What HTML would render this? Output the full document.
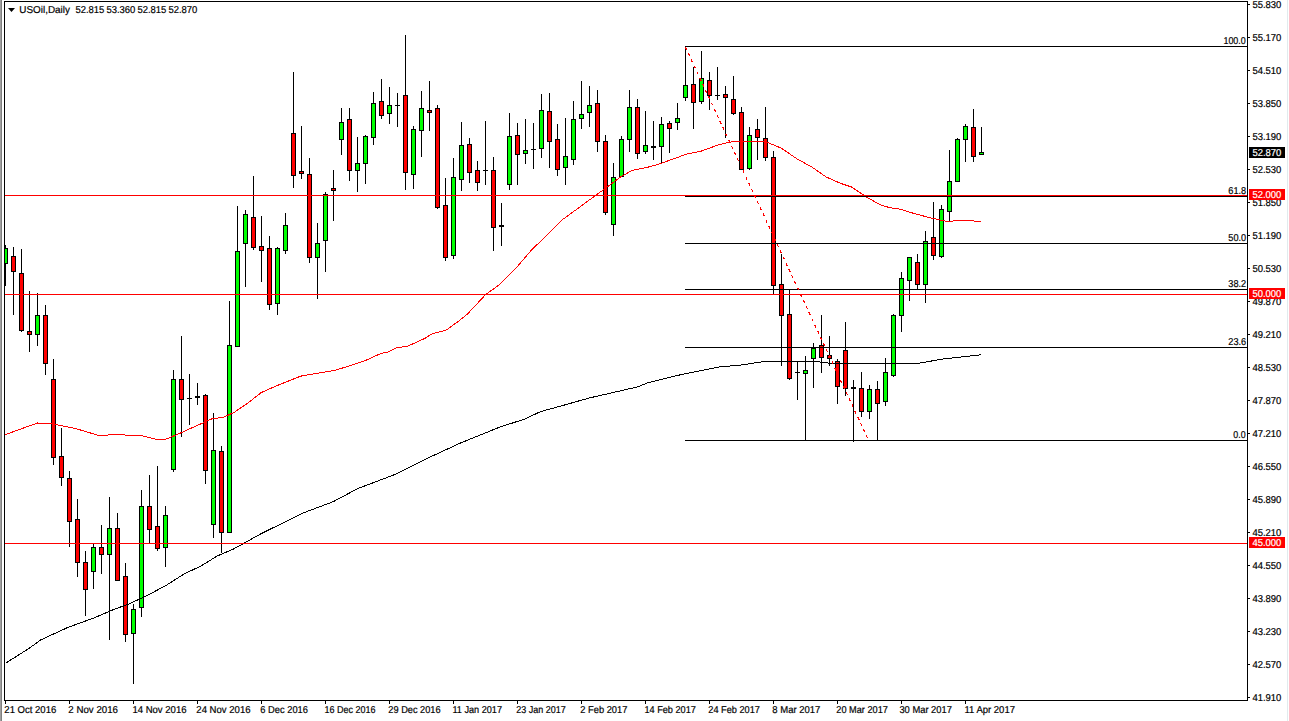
<!DOCTYPE html><html><head><meta charset="utf-8"><title>USOil Daily</title><style>
html,body{margin:0;padding:0;background:#fff;overflow:hidden;}
svg{display:block;}
text{font-family:"Liberation Sans",sans-serif;font-size:10px;text-rendering:geometricPrecision;stroke-width:0.2px;}
</style></head><body>
<svg width="1289" height="721" viewBox="0 0 1289 721">
<rect x="0" y="0" width="1289" height="721" fill="#fff"/>
<rect x="0" y="0" width="1" height="721" fill="#a0a0a0"/>
<rect x="1" y="0" width="1" height="721" fill="#808080"/>
<rect x="1287" y="0" width="1" height="721" fill="#e1ebee"/>
<defs><clipPath id="c"><rect x="5" y="2" width="1242" height="698"/></clipPath></defs>
<g clip-path="url(#c)" shape-rendering="crispEdges">
<rect x="5" y="245" width="1" height="41" fill="#000"/>
<rect x="3" y="248" width="5" height="16" fill="#000"/>
<rect x="4" y="249" width="3" height="14" fill="#00ff00"/>
<rect x="13" y="247" width="1" height="68" fill="#000"/>
<rect x="11" y="256" width="5" height="16" fill="#000"/>
<rect x="12" y="257" width="3" height="14" fill="#ff0000"/>
<rect x="21" y="249" width="1" height="83" fill="#000"/>
<rect x="19" y="273" width="5" height="58" fill="#000"/>
<rect x="20" y="274" width="3" height="56" fill="#ff0000"/>
<rect x="29" y="291" width="1" height="61" fill="#000"/>
<rect x="27" y="331" width="5" height="4" fill="#000"/>
<rect x="28" y="332" width="3" height="2" fill="#ff0000"/>
<rect x="37" y="293" width="1" height="53" fill="#000"/>
<rect x="35" y="315" width="5" height="20" fill="#000"/>
<rect x="36" y="316" width="3" height="18" fill="#00ff00"/>
<rect x="45" y="305" width="1" height="70" fill="#000"/>
<rect x="43" y="315" width="5" height="49" fill="#000"/>
<rect x="44" y="316" width="3" height="47" fill="#ff0000"/>
<rect x="53" y="359" width="1" height="106" fill="#000"/>
<rect x="51" y="379" width="5" height="79" fill="#000"/>
<rect x="52" y="380" width="3" height="77" fill="#ff0000"/>
<rect x="61" y="428" width="1" height="58" fill="#000"/>
<rect x="59" y="456" width="5" height="22" fill="#000"/>
<rect x="60" y="457" width="3" height="20" fill="#ff0000"/>
<rect x="69" y="471" width="1" height="76" fill="#000"/>
<rect x="67" y="478" width="5" height="44" fill="#000"/>
<rect x="68" y="479" width="3" height="42" fill="#ff0000"/>
<rect x="77" y="499" width="1" height="78" fill="#000"/>
<rect x="75" y="519" width="5" height="44" fill="#000"/>
<rect x="76" y="520" width="3" height="42" fill="#ff0000"/>
<rect x="85" y="551" width="1" height="65" fill="#000"/>
<rect x="83" y="562" width="5" height="28" fill="#000"/>
<rect x="84" y="563" width="3" height="26" fill="#ff0000"/>
<rect x="93" y="544" width="1" height="45" fill="#000"/>
<rect x="91" y="547" width="5" height="25" fill="#000"/>
<rect x="92" y="548" width="3" height="23" fill="#00ff00"/>
<rect x="101" y="525" width="1" height="49" fill="#000"/>
<rect x="99" y="547" width="5" height="8" fill="#000"/>
<rect x="100" y="548" width="3" height="6" fill="#ff0000"/>
<rect x="109" y="497" width="1" height="143" fill="#000"/>
<rect x="107" y="528" width="5" height="27" fill="#000"/>
<rect x="108" y="529" width="3" height="25" fill="#00ff00"/>
<rect x="117" y="513" width="1" height="68" fill="#000"/>
<rect x="115" y="528" width="5" height="53" fill="#000"/>
<rect x="116" y="529" width="3" height="51" fill="#ff0000"/>
<rect x="125" y="563" width="1" height="79" fill="#000"/>
<rect x="123" y="576" width="5" height="59" fill="#000"/>
<rect x="124" y="577" width="3" height="57" fill="#ff0000"/>
<rect x="133" y="604" width="1" height="80" fill="#000"/>
<rect x="131" y="609" width="5" height="25" fill="#000"/>
<rect x="132" y="610" width="3" height="23" fill="#00ff00"/>
<rect x="141" y="490" width="1" height="127" fill="#000"/>
<rect x="139" y="506" width="5" height="102" fill="#000"/>
<rect x="140" y="507" width="3" height="100" fill="#00ff00"/>
<rect x="149" y="475" width="1" height="68" fill="#000"/>
<rect x="147" y="506" width="5" height="24" fill="#000"/>
<rect x="148" y="507" width="3" height="22" fill="#ff0000"/>
<rect x="157" y="466" width="1" height="85" fill="#000"/>
<rect x="155" y="526" width="5" height="23" fill="#000"/>
<rect x="156" y="527" width="3" height="21" fill="#ff0000"/>
<rect x="165" y="506" width="1" height="61" fill="#000"/>
<rect x="163" y="515" width="5" height="33" fill="#000"/>
<rect x="164" y="516" width="3" height="31" fill="#00ff00"/>
<rect x="173" y="370" width="1" height="102" fill="#000"/>
<rect x="171" y="379" width="5" height="91" fill="#000"/>
<rect x="172" y="380" width="3" height="89" fill="#00ff00"/>
<rect x="181" y="336" width="1" height="101" fill="#000"/>
<rect x="179" y="379" width="5" height="21" fill="#000"/>
<rect x="180" y="380" width="3" height="19" fill="#ff0000"/>
<rect x="189" y="374" width="1" height="51" fill="#000"/>
<rect x="187" y="398" width="5" height="1" fill="#000"/>
<rect x="197" y="383" width="1" height="22" fill="#000"/>
<rect x="195" y="396" width="5" height="2" fill="#000"/>
<rect x="205" y="394" width="1" height="90" fill="#000"/>
<rect x="203" y="395" width="5" height="76" fill="#000"/>
<rect x="204" y="396" width="3" height="74" fill="#ff0000"/>
<rect x="213" y="413" width="1" height="125" fill="#000"/>
<rect x="211" y="450" width="5" height="75" fill="#000"/>
<rect x="212" y="451" width="3" height="73" fill="#00ff00"/>
<rect x="221" y="446" width="1" height="107" fill="#000"/>
<rect x="219" y="451" width="5" height="82" fill="#000"/>
<rect x="220" y="452" width="3" height="80" fill="#ff0000"/>
<rect x="229" y="301" width="1" height="232" fill="#000"/>
<rect x="227" y="345" width="5" height="188" fill="#000"/>
<rect x="228" y="346" width="3" height="186" fill="#00ff00"/>
<rect x="237" y="206" width="1" height="141" fill="#000"/>
<rect x="235" y="251" width="5" height="96" fill="#000"/>
<rect x="236" y="252" width="3" height="94" fill="#00ff00"/>
<rect x="245" y="210" width="1" height="77" fill="#000"/>
<rect x="243" y="214" width="5" height="30" fill="#000"/>
<rect x="244" y="215" width="3" height="28" fill="#00ff00"/>
<rect x="253" y="176" width="1" height="74" fill="#000"/>
<rect x="251" y="217" width="5" height="31" fill="#000"/>
<rect x="252" y="218" width="3" height="29" fill="#ff0000"/>
<rect x="261" y="216" width="1" height="66" fill="#000"/>
<rect x="259" y="246" width="5" height="5" fill="#000"/>
<rect x="260" y="247" width="3" height="3" fill="#ff0000"/>
<rect x="269" y="236" width="1" height="74" fill="#000"/>
<rect x="267" y="248" width="5" height="57" fill="#000"/>
<rect x="268" y="249" width="3" height="55" fill="#ff0000"/>
<rect x="277" y="247" width="1" height="68" fill="#000"/>
<rect x="275" y="248" width="5" height="56" fill="#000"/>
<rect x="276" y="249" width="3" height="54" fill="#00ff00"/>
<rect x="285" y="213" width="1" height="41" fill="#000"/>
<rect x="283" y="225" width="5" height="26" fill="#000"/>
<rect x="284" y="226" width="3" height="24" fill="#00ff00"/>
<rect x="293" y="72" width="1" height="116" fill="#000"/>
<rect x="291" y="133" width="5" height="43" fill="#000"/>
<rect x="292" y="134" width="3" height="41" fill="#ff0000"/>
<rect x="301" y="126" width="1" height="53" fill="#000"/>
<rect x="299" y="171" width="5" height="3" fill="#000"/>
<rect x="300" y="172" width="3" height="1" fill="#ff0000"/>
<rect x="309" y="158" width="1" height="105" fill="#000"/>
<rect x="307" y="174" width="5" height="84" fill="#000"/>
<rect x="308" y="175" width="3" height="82" fill="#ff0000"/>
<rect x="317" y="223" width="1" height="76" fill="#000"/>
<rect x="315" y="243" width="5" height="15" fill="#000"/>
<rect x="316" y="244" width="3" height="13" fill="#00ff00"/>
<rect x="325" y="192" width="1" height="80" fill="#000"/>
<rect x="323" y="194" width="5" height="47" fill="#000"/>
<rect x="324" y="195" width="3" height="45" fill="#00ff00"/>
<rect x="333" y="170" width="1" height="51" fill="#000"/>
<rect x="331" y="188" width="5" height="3" fill="#000"/>
<rect x="332" y="189" width="3" height="1" fill="#ff0000"/>
<rect x="341" y="108" width="1" height="47" fill="#000"/>
<rect x="339" y="122" width="5" height="18" fill="#000"/>
<rect x="340" y="123" width="3" height="16" fill="#00ff00"/>
<rect x="349" y="108" width="1" height="73" fill="#000"/>
<rect x="347" y="119" width="5" height="52" fill="#000"/>
<rect x="348" y="120" width="3" height="50" fill="#ff0000"/>
<rect x="357" y="137" width="1" height="55" fill="#000"/>
<rect x="355" y="163" width="5" height="8" fill="#000"/>
<rect x="356" y="164" width="3" height="6" fill="#00ff00"/>
<rect x="365" y="135" width="1" height="49" fill="#000"/>
<rect x="363" y="136" width="5" height="28" fill="#000"/>
<rect x="364" y="137" width="3" height="26" fill="#00ff00"/>
<rect x="373" y="92" width="1" height="53" fill="#000"/>
<rect x="371" y="103" width="5" height="35" fill="#000"/>
<rect x="372" y="104" width="3" height="33" fill="#00ff00"/>
<rect x="381" y="79" width="1" height="40" fill="#000"/>
<rect x="379" y="101" width="5" height="15" fill="#000"/>
<rect x="380" y="102" width="3" height="13" fill="#ff0000"/>
<rect x="389" y="87" width="1" height="37" fill="#000"/>
<rect x="387" y="105" width="5" height="9" fill="#000"/>
<rect x="388" y="106" width="3" height="7" fill="#00ff00"/>
<rect x="397" y="93" width="1" height="34" fill="#000"/>
<rect x="395" y="105" width="5" height="1" fill="#000"/>
<rect x="405" y="35" width="1" height="155" fill="#000"/>
<rect x="403" y="95" width="5" height="78" fill="#000"/>
<rect x="404" y="96" width="3" height="76" fill="#ff0000"/>
<rect x="413" y="126" width="1" height="63" fill="#000"/>
<rect x="411" y="129" width="5" height="46" fill="#000"/>
<rect x="412" y="130" width="3" height="44" fill="#00ff00"/>
<rect x="421" y="91" width="1" height="66" fill="#000"/>
<rect x="419" y="108" width="5" height="23" fill="#000"/>
<rect x="420" y="109" width="3" height="21" fill="#00ff00"/>
<rect x="429" y="81" width="1" height="50" fill="#000"/>
<rect x="427" y="110" width="5" height="3" fill="#000"/>
<rect x="428" y="111" width="3" height="1" fill="#ff0000"/>
<rect x="437" y="105" width="1" height="104" fill="#000"/>
<rect x="435" y="108" width="5" height="100" fill="#000"/>
<rect x="436" y="109" width="3" height="98" fill="#ff0000"/>
<rect x="445" y="178" width="1" height="83" fill="#000"/>
<rect x="443" y="205" width="5" height="53" fill="#000"/>
<rect x="444" y="206" width="3" height="51" fill="#ff0000"/>
<rect x="453" y="158" width="1" height="101" fill="#000"/>
<rect x="451" y="177" width="5" height="79" fill="#000"/>
<rect x="452" y="178" width="3" height="77" fill="#00ff00"/>
<rect x="461" y="122" width="1" height="69" fill="#000"/>
<rect x="459" y="145" width="5" height="35" fill="#000"/>
<rect x="460" y="146" width="3" height="33" fill="#00ff00"/>
<rect x="469" y="138" width="1" height="45" fill="#000"/>
<rect x="467" y="144" width="5" height="29" fill="#000"/>
<rect x="468" y="145" width="3" height="27" fill="#ff0000"/>
<rect x="477" y="161" width="1" height="30" fill="#000"/>
<rect x="475" y="170" width="5" height="13" fill="#000"/>
<rect x="476" y="171" width="3" height="11" fill="#ff0000"/>
<rect x="485" y="121" width="1" height="64" fill="#000"/>
<rect x="483" y="170" width="5" height="1" fill="#000"/>
<rect x="493" y="157" width="1" height="94" fill="#000"/>
<rect x="491" y="170" width="5" height="58" fill="#000"/>
<rect x="492" y="171" width="3" height="56" fill="#ff0000"/>
<rect x="501" y="203" width="1" height="43" fill="#000"/>
<rect x="499" y="225" width="5" height="2" fill="#000"/>
<rect x="509" y="113" width="1" height="77" fill="#000"/>
<rect x="507" y="136" width="5" height="49" fill="#000"/>
<rect x="508" y="137" width="3" height="47" fill="#00ff00"/>
<rect x="517" y="123" width="1" height="62" fill="#000"/>
<rect x="515" y="135" width="5" height="20" fill="#000"/>
<rect x="516" y="136" width="3" height="18" fill="#ff0000"/>
<rect x="525" y="119" width="1" height="45" fill="#000"/>
<rect x="523" y="150" width="5" height="4" fill="#000"/>
<rect x="524" y="151" width="3" height="2" fill="#00ff00"/>
<rect x="533" y="123" width="1" height="46" fill="#000"/>
<rect x="531" y="149" width="5" height="1" fill="#000"/>
<rect x="541" y="94" width="1" height="64" fill="#000"/>
<rect x="539" y="110" width="5" height="39" fill="#000"/>
<rect x="540" y="111" width="3" height="37" fill="#00ff00"/>
<rect x="549" y="93" width="1" height="75" fill="#000"/>
<rect x="547" y="111" width="5" height="31" fill="#000"/>
<rect x="548" y="112" width="3" height="29" fill="#ff0000"/>
<rect x="557" y="124" width="1" height="52" fill="#000"/>
<rect x="555" y="139" width="5" height="31" fill="#000"/>
<rect x="556" y="140" width="3" height="29" fill="#ff0000"/>
<rect x="565" y="118" width="1" height="67" fill="#000"/>
<rect x="563" y="156" width="5" height="12" fill="#000"/>
<rect x="564" y="157" width="3" height="10" fill="#00ff00"/>
<rect x="573" y="101" width="1" height="64" fill="#000"/>
<rect x="571" y="119" width="5" height="41" fill="#000"/>
<rect x="572" y="120" width="3" height="39" fill="#00ff00"/>
<rect x="581" y="81" width="1" height="48" fill="#000"/>
<rect x="579" y="114" width="5" height="5" fill="#000"/>
<rect x="580" y="115" width="3" height="3" fill="#00ff00"/>
<rect x="589" y="86" width="1" height="41" fill="#000"/>
<rect x="587" y="105" width="5" height="8" fill="#000"/>
<rect x="588" y="106" width="3" height="6" fill="#00ff00"/>
<rect x="597" y="90" width="1" height="62" fill="#000"/>
<rect x="595" y="103" width="5" height="39" fill="#000"/>
<rect x="596" y="104" width="3" height="37" fill="#ff0000"/>
<rect x="605" y="135" width="1" height="80" fill="#000"/>
<rect x="603" y="141" width="5" height="72" fill="#000"/>
<rect x="604" y="142" width="3" height="70" fill="#ff0000"/>
<rect x="613" y="163" width="1" height="73" fill="#000"/>
<rect x="611" y="177" width="5" height="48" fill="#000"/>
<rect x="612" y="178" width="3" height="46" fill="#00ff00"/>
<rect x="621" y="136" width="1" height="41" fill="#000"/>
<rect x="619" y="139" width="5" height="38" fill="#000"/>
<rect x="620" y="140" width="3" height="36" fill="#00ff00"/>
<rect x="629" y="90" width="1" height="62" fill="#000"/>
<rect x="627" y="107" width="5" height="33" fill="#000"/>
<rect x="628" y="108" width="3" height="31" fill="#00ff00"/>
<rect x="637" y="99" width="1" height="60" fill="#000"/>
<rect x="635" y="107" width="5" height="47" fill="#000"/>
<rect x="636" y="108" width="3" height="45" fill="#ff0000"/>
<rect x="645" y="111" width="1" height="43" fill="#000"/>
<rect x="643" y="145" width="5" height="7" fill="#000"/>
<rect x="644" y="146" width="3" height="5" fill="#00ff00"/>
<rect x="653" y="121" width="1" height="39" fill="#000"/>
<rect x="651" y="146" width="5" height="2" fill="#000"/>
<rect x="661" y="117" width="1" height="47" fill="#000"/>
<rect x="659" y="124" width="5" height="23" fill="#000"/>
<rect x="660" y="125" width="3" height="21" fill="#00ff00"/>
<rect x="669" y="121" width="1" height="32" fill="#000"/>
<rect x="667" y="123" width="5" height="6" fill="#000"/>
<rect x="668" y="124" width="3" height="4" fill="#ff0000"/>
<rect x="677" y="103" width="1" height="27" fill="#000"/>
<rect x="675" y="118" width="5" height="5" fill="#000"/>
<rect x="676" y="119" width="3" height="3" fill="#00ff00"/>
<rect x="685" y="47" width="1" height="54" fill="#000"/>
<rect x="683" y="85" width="5" height="13" fill="#000"/>
<rect x="684" y="86" width="3" height="11" fill="#00ff00"/>
<rect x="693" y="67" width="1" height="62" fill="#000"/>
<rect x="691" y="84" width="5" height="19" fill="#000"/>
<rect x="692" y="85" width="3" height="17" fill="#ff0000"/>
<rect x="701" y="51" width="1" height="53" fill="#000"/>
<rect x="699" y="78" width="5" height="24" fill="#000"/>
<rect x="700" y="79" width="3" height="22" fill="#00ff00"/>
<rect x="709" y="72" width="1" height="38" fill="#000"/>
<rect x="707" y="80" width="5" height="16" fill="#000"/>
<rect x="708" y="81" width="3" height="14" fill="#ff0000"/>
<rect x="717" y="67" width="1" height="33" fill="#000"/>
<rect x="715" y="95" width="5" height="1" fill="#000"/>
<rect x="725" y="86" width="1" height="52" fill="#000"/>
<rect x="723" y="94" width="5" height="4" fill="#000"/>
<rect x="724" y="95" width="3" height="2" fill="#ff0000"/>
<rect x="733" y="76" width="1" height="39" fill="#000"/>
<rect x="731" y="99" width="5" height="15" fill="#000"/>
<rect x="732" y="100" width="3" height="13" fill="#ff0000"/>
<rect x="741" y="107" width="1" height="63" fill="#000"/>
<rect x="739" y="112" width="5" height="58" fill="#000"/>
<rect x="740" y="113" width="3" height="56" fill="#ff0000"/>
<rect x="749" y="127" width="1" height="43" fill="#000"/>
<rect x="747" y="135" width="5" height="34" fill="#000"/>
<rect x="748" y="136" width="3" height="32" fill="#00ff00"/>
<rect x="757" y="119" width="1" height="41" fill="#000"/>
<rect x="755" y="129" width="5" height="9" fill="#000"/>
<rect x="756" y="130" width="3" height="7" fill="#ff0000"/>
<rect x="765" y="107" width="1" height="54" fill="#000"/>
<rect x="763" y="138" width="5" height="20" fill="#000"/>
<rect x="764" y="139" width="3" height="18" fill="#ff0000"/>
<rect x="773" y="151" width="1" height="144" fill="#000"/>
<rect x="771" y="157" width="5" height="129" fill="#000"/>
<rect x="772" y="158" width="3" height="127" fill="#ff0000"/>
<rect x="781" y="254" width="1" height="112" fill="#000"/>
<rect x="779" y="284" width="5" height="32" fill="#000"/>
<rect x="780" y="285" width="3" height="30" fill="#ff0000"/>
<rect x="789" y="290" width="1" height="90" fill="#000"/>
<rect x="787" y="314" width="5" height="65" fill="#000"/>
<rect x="788" y="315" width="3" height="63" fill="#ff0000"/>
<rect x="797" y="361" width="1" height="39" fill="#000"/>
<rect x="795" y="372" width="5" height="1" fill="#000"/>
<rect x="805" y="356" width="1" height="85" fill="#000"/>
<rect x="803" y="370" width="5" height="4" fill="#000"/>
<rect x="804" y="371" width="3" height="2" fill="#00ff00"/>
<rect x="813" y="343" width="1" height="45" fill="#000"/>
<rect x="811" y="348" width="5" height="11" fill="#000"/>
<rect x="812" y="349" width="3" height="9" fill="#00ff00"/>
<rect x="821" y="315" width="1" height="58" fill="#000"/>
<rect x="819" y="345" width="5" height="13" fill="#000"/>
<rect x="820" y="346" width="3" height="11" fill="#ff0000"/>
<rect x="829" y="336" width="1" height="30" fill="#000"/>
<rect x="827" y="355" width="5" height="4" fill="#000"/>
<rect x="828" y="356" width="3" height="2" fill="#ff0000"/>
<rect x="837" y="359" width="1" height="45" fill="#000"/>
<rect x="835" y="361" width="5" height="26" fill="#000"/>
<rect x="836" y="362" width="3" height="24" fill="#ff0000"/>
<rect x="845" y="322" width="1" height="74" fill="#000"/>
<rect x="843" y="350" width="5" height="39" fill="#000"/>
<rect x="844" y="351" width="3" height="37" fill="#ff0000"/>
<rect x="853" y="380" width="1" height="62" fill="#000"/>
<rect x="851" y="387" width="5" height="2" fill="#000"/>
<rect x="861" y="372" width="1" height="45" fill="#000"/>
<rect x="859" y="388" width="5" height="24" fill="#000"/>
<rect x="860" y="389" width="3" height="22" fill="#ff0000"/>
<rect x="869" y="385" width="1" height="34" fill="#000"/>
<rect x="867" y="389" width="5" height="23" fill="#000"/>
<rect x="868" y="390" width="3" height="21" fill="#00ff00"/>
<rect x="877" y="381" width="1" height="60" fill="#000"/>
<rect x="875" y="389" width="5" height="15" fill="#000"/>
<rect x="876" y="390" width="3" height="13" fill="#ff0000"/>
<rect x="885" y="358" width="1" height="48" fill="#000"/>
<rect x="883" y="372" width="5" height="30" fill="#000"/>
<rect x="884" y="373" width="3" height="28" fill="#00ff00"/>
<rect x="893" y="314" width="1" height="63" fill="#000"/>
<rect x="891" y="315" width="5" height="61" fill="#000"/>
<rect x="892" y="316" width="3" height="59" fill="#00ff00"/>
<rect x="901" y="272" width="1" height="60" fill="#000"/>
<rect x="899" y="278" width="5" height="38" fill="#000"/>
<rect x="900" y="279" width="3" height="36" fill="#00ff00"/>
<rect x="909" y="257" width="1" height="44" fill="#000"/>
<rect x="907" y="257" width="5" height="24" fill="#000"/>
<rect x="908" y="258" width="3" height="22" fill="#00ff00"/>
<rect x="917" y="254" width="1" height="36" fill="#000"/>
<rect x="915" y="262" width="5" height="23" fill="#000"/>
<rect x="916" y="263" width="3" height="21" fill="#ff0000"/>
<rect x="925" y="231" width="1" height="72" fill="#000"/>
<rect x="923" y="241" width="5" height="44" fill="#000"/>
<rect x="924" y="242" width="3" height="42" fill="#00ff00"/>
<rect x="933" y="202" width="1" height="58" fill="#000"/>
<rect x="931" y="237" width="5" height="19" fill="#000"/>
<rect x="932" y="238" width="3" height="17" fill="#ff0000"/>
<rect x="941" y="205" width="1" height="53" fill="#000"/>
<rect x="939" y="209" width="5" height="48" fill="#000"/>
<rect x="940" y="210" width="3" height="46" fill="#00ff00"/>
<rect x="949" y="150" width="1" height="72" fill="#000"/>
<rect x="947" y="181" width="5" height="31" fill="#000"/>
<rect x="948" y="182" width="3" height="29" fill="#00ff00"/>
<rect x="957" y="138" width="1" height="44" fill="#000"/>
<rect x="955" y="139" width="5" height="43" fill="#000"/>
<rect x="956" y="140" width="3" height="41" fill="#00ff00"/>
<rect x="965" y="124" width="1" height="38" fill="#000"/>
<rect x="963" y="126" width="5" height="14" fill="#000"/>
<rect x="964" y="127" width="3" height="12" fill="#00ff00"/>
<rect x="973" y="109" width="1" height="53" fill="#000"/>
<rect x="971" y="127" width="5" height="30" fill="#000"/>
<rect x="972" y="128" width="3" height="28" fill="#ff0000"/>
<rect x="981" y="127" width="1" height="28" fill="#000"/>
<rect x="979" y="152" width="5" height="3" fill="#000"/>
<rect x="980" y="153" width="3" height="1" fill="#00ff00"/>
<polyline points="5.50,663.20 28.50,648.80 40.50,640.00 67.50,627.60 85.50,621.00 94.50,617.70 112.50,610.00 130.50,603.30 148.50,594.80 166.50,585.20 184.80,573.50 200.50,566.30 217.20,556.00 233.50,549.00 260.50,534.00 303.00,513.00 333.00,501.75 358.00,488.50 395.50,474.25 428.00,458.00 460.50,443.00 500.50,426.80 524.70,419.10 540.80,411.50 561.00,406.00 589.20,398.00 637.60,386.90 647.70,382.80 682.00,374.40 718.20,367.10 740.50,365.10 762.70,361.70 817.10,361.70 833.20,363.70 919.90,363.10 942.10,359.10 981.50,354.70" fill="none" stroke="#000000" stroke-width="1" />
<polyline points="5.50,434.50 37.50,423.00 50.50,423.50 75.50,428.50 100.50,436.00 112.50,434.50 120.50,434.50 132.50,436.00 140.50,435.40 156.50,439.30 166.50,439.00 176.50,434.80 194.50,426.70 212.50,418.60 223.50,417.30 234.30,412.30 248.70,402.40 261.30,392.50 275.80,386.10 300.50,376.20 308.80,374.70 334.40,370.50 351.40,365.30 365.10,360.70 380.40,353.70 389.00,351.70 397.50,347.40 406.90,346.60 424.80,338.40 431.60,334.10 440.50,331.50 445.90,330.30 458.50,321.20 467.50,314.00 485.50,294.70 500.00,284.30 514.50,269.80 530.70,250.90 563.00,219.25 580.50,206.50 585.50,202.80 602.80,190.20 620.20,177.20 632.30,170.30 645.50,167.70 650.70,166.50 661.50,163.20 686.70,154.10 701.20,151.10 718.50,144.80 733.00,141.50 745.50,141.50 765.50,141.50 781.70,148.40 796.10,158.30 812.30,167.30 826.20,177.00 840.70,183.40 851.50,187.00 867.70,197.80 880.50,204.90 890.20,207.80 899.90,209.10 909.60,212.20 929.00,217.50 946.50,221.40 962.10,220.40 981.50,221.40" fill="none" stroke="#ff0000" stroke-width="1" />
<rect x="5" y="195" width="1242" height="1" fill="#ff0000"/>
<rect x="5" y="294" width="1242" height="1" fill="#ff0000"/>
<rect x="5" y="543" width="1242" height="1" fill="#ff0000"/>
<rect x="685" y="46" width="562" height="1" fill="#000000"/>
<rect x="685" y="196" width="562" height="1" fill="#000000"/>
<rect x="685" y="243" width="562" height="1" fill="#000000"/>
<rect x="685" y="289" width="562" height="1" fill="#000000"/>
<rect x="685" y="347" width="562" height="1" fill="#000000"/>
<rect x="685" y="440" width="562" height="1" fill="#000000"/>
<line x1="685.5" y1="47.2" x2="868.5" y2="440.2" stroke="#ff0000" stroke-width="1.2" stroke-dasharray="3 3.8"/>
</g>
<g shape-rendering="crispEdges">
<rect x="4" y="1" width="1244" height="1" fill="#000"/>
<rect x="4" y="700" width="1244" height="1" fill="#000"/>
<rect x="4" y="1" width="1" height="700" fill="#000"/>
<rect x="1247" y="1" width="1" height="700" fill="#000"/>
<rect x="1248" y="4" width="2" height="1" fill="#000"/>
<rect x="1248" y="37" width="2" height="1" fill="#000"/>
<rect x="1248" y="70" width="2" height="1" fill="#000"/>
<rect x="1248" y="103" width="2" height="1" fill="#000"/>
<rect x="1248" y="136" width="2" height="1" fill="#000"/>
<rect x="1248" y="169" width="2" height="1" fill="#000"/>
<rect x="1248" y="202" width="2" height="1" fill="#000"/>
<rect x="1248" y="235" width="2" height="1" fill="#000"/>
<rect x="1248" y="268" width="2" height="1" fill="#000"/>
<rect x="1248" y="301" width="2" height="1" fill="#000"/>
<rect x="1248" y="334" width="2" height="1" fill="#000"/>
<rect x="1248" y="367" width="2" height="1" fill="#000"/>
<rect x="1248" y="400" width="2" height="1" fill="#000"/>
<rect x="1248" y="433" width="2" height="1" fill="#000"/>
<rect x="1248" y="466" width="2" height="1" fill="#000"/>
<rect x="1248" y="499" width="2" height="1" fill="#000"/>
<rect x="1248" y="532" width="2" height="1" fill="#000"/>
<rect x="1248" y="565" width="2" height="1" fill="#000"/>
<rect x="1248" y="598" width="2" height="1" fill="#000"/>
<rect x="1248" y="631" width="2" height="1" fill="#000"/>
<rect x="1248" y="664" width="2" height="1" fill="#000"/>
<rect x="1248" y="697" width="2" height="1" fill="#000"/>
</g>
<text x="1252.404" y="8" textLength="28.955" lengthAdjust="spacingAndGlyphs" fill="#000" stroke="#000">55.830</text>
<text x="1252.404" y="41" textLength="28.955" lengthAdjust="spacingAndGlyphs" fill="#000" stroke="#000">55.170</text>
<text x="1252.404" y="74" textLength="28.955" lengthAdjust="spacingAndGlyphs" fill="#000" stroke="#000">54.510</text>
<text x="1252.404" y="107" textLength="28.955" lengthAdjust="spacingAndGlyphs" fill="#000" stroke="#000">53.850</text>
<text x="1252.404" y="140" textLength="28.955" lengthAdjust="spacingAndGlyphs" fill="#000" stroke="#000">53.190</text>
<text x="1252.404" y="173" textLength="28.955" lengthAdjust="spacingAndGlyphs" fill="#000" stroke="#000">52.530</text>
<text x="1252.404" y="206" textLength="28.955" lengthAdjust="spacingAndGlyphs" fill="#000" stroke="#000">51.850</text>
<text x="1252.404" y="239" textLength="28.955" lengthAdjust="spacingAndGlyphs" fill="#000" stroke="#000">51.190</text>
<text x="1252.404" y="272" textLength="28.955" lengthAdjust="spacingAndGlyphs" fill="#000" stroke="#000">50.530</text>
<text x="1252.404" y="305" textLength="28.955" lengthAdjust="spacingAndGlyphs" fill="#000" stroke="#000">49.870</text>
<text x="1252.404" y="338" textLength="28.955" lengthAdjust="spacingAndGlyphs" fill="#000" stroke="#000">49.210</text>
<text x="1252.404" y="371" textLength="28.955" lengthAdjust="spacingAndGlyphs" fill="#000" stroke="#000">48.530</text>
<text x="1252.404" y="404" textLength="28.955" lengthAdjust="spacingAndGlyphs" fill="#000" stroke="#000">47.870</text>
<text x="1252.404" y="437" textLength="28.955" lengthAdjust="spacingAndGlyphs" fill="#000" stroke="#000">47.210</text>
<text x="1252.404" y="470" textLength="28.955" lengthAdjust="spacingAndGlyphs" fill="#000" stroke="#000">46.550</text>
<text x="1252.404" y="503" textLength="28.955" lengthAdjust="spacingAndGlyphs" fill="#000" stroke="#000">45.890</text>
<text x="1252.404" y="536" textLength="28.955" lengthAdjust="spacingAndGlyphs" fill="#000" stroke="#000">45.210</text>
<text x="1252.404" y="569" textLength="28.955" lengthAdjust="spacingAndGlyphs" fill="#000" stroke="#000">44.550</text>
<text x="1252.404" y="602" textLength="28.955" lengthAdjust="spacingAndGlyphs" fill="#000" stroke="#000">43.890</text>
<text x="1252.404" y="635" textLength="28.955" lengthAdjust="spacingAndGlyphs" fill="#000" stroke="#000">43.230</text>
<text x="1252.404" y="668" textLength="28.955" lengthAdjust="spacingAndGlyphs" fill="#000" stroke="#000">42.570</text>
<text x="1252.404" y="701" textLength="28.955" lengthAdjust="spacingAndGlyphs" fill="#000" stroke="#000">41.910</text>
<rect x="1249" y="147" width="36" height="11" fill="#000000" shape-rendering="crispEdges"/>
<text x="1252.404" y="156" textLength="28.955" lengthAdjust="spacingAndGlyphs" fill="#fff" stroke="#fff">52.870</text>
<rect x="1249" y="189" width="36" height="11" fill="#ff0000" shape-rendering="crispEdges"/>
<text x="1252.404" y="198" textLength="28.955" lengthAdjust="spacingAndGlyphs" fill="#fff" stroke="#fff">52.000</text>
<rect x="1249" y="288" width="36" height="11" fill="#ff0000" shape-rendering="crispEdges"/>
<text x="1252.404" y="297" textLength="28.955" lengthAdjust="spacingAndGlyphs" fill="#fff" stroke="#fff">50.000</text>
<rect x="1249" y="537" width="36" height="11" fill="#ff0000" shape-rendering="crispEdges"/>
<text x="1252.404" y="546" textLength="28.955" lengthAdjust="spacingAndGlyphs" fill="#fff" stroke="#fff">45.000</text>
<text x="1223.459" y="44" textLength="22.310" lengthAdjust="spacingAndGlyphs" fill="#000" stroke="#000">100.0</text>
<text x="1228.350" y="194" textLength="17.846" lengthAdjust="spacingAndGlyphs" fill="#000" stroke="#000">61.8</text>
<text x="1228.350" y="241" textLength="17.846" lengthAdjust="spacingAndGlyphs" fill="#000" stroke="#000">50.0</text>
<text x="1228.350" y="287" textLength="17.846" lengthAdjust="spacingAndGlyphs" fill="#000" stroke="#000">38.2</text>
<text x="1228.350" y="345" textLength="17.846" lengthAdjust="spacingAndGlyphs" fill="#000" stroke="#000">23.6</text>
<text x="1233.350" y="438" textLength="12.302" lengthAdjust="spacingAndGlyphs" fill="#000" stroke="#000">0.0</text>
<g shape-rendering="crispEdges">
<rect x="5" y="701" width="1" height="3" fill="#000"/>
<rect x="69" y="701" width="1" height="3" fill="#000"/>
<rect x="133" y="701" width="1" height="3" fill="#000"/>
<rect x="197" y="701" width="1" height="3" fill="#000"/>
<rect x="261" y="701" width="1" height="3" fill="#000"/>
<rect x="325" y="701" width="1" height="3" fill="#000"/>
<rect x="389" y="701" width="1" height="3" fill="#000"/>
<rect x="453" y="701" width="1" height="3" fill="#000"/>
<rect x="517" y="701" width="1" height="3" fill="#000"/>
<rect x="581" y="701" width="1" height="3" fill="#000"/>
<rect x="645" y="701" width="1" height="3" fill="#000"/>
<rect x="709" y="701" width="1" height="3" fill="#000"/>
<rect x="773" y="701" width="1" height="3" fill="#000"/>
<rect x="837" y="701" width="1" height="3" fill="#000"/>
<rect x="901" y="701" width="1" height="3" fill="#000"/>
<rect x="965" y="701" width="1" height="3" fill="#000"/>
</g>
<text x="4.350" y="713" textLength="51.914" lengthAdjust="spacingAndGlyphs" fill="#000" stroke="#000">21 Oct 2016</text>
<text x="68.350" y="713" textLength="49.622" lengthAdjust="spacingAndGlyphs" fill="#000" stroke="#000">2 Nov 2016</text>
<text x="132.395" y="713" textLength="54.141" lengthAdjust="spacingAndGlyphs" fill="#000" stroke="#000">14 Nov 2016</text>
<text x="196.350" y="713" textLength="54.187" lengthAdjust="spacingAndGlyphs" fill="#000" stroke="#000">24 Nov 2016</text>
<text x="260.350" y="713" textLength="47.575" lengthAdjust="spacingAndGlyphs" fill="#000" stroke="#000">6 Dec 2016</text>
<text x="324.450" y="713" textLength="51.047" lengthAdjust="spacingAndGlyphs" fill="#000" stroke="#000">16 Dec 2016</text>
<text x="388.350" y="713" textLength="52.161" lengthAdjust="spacingAndGlyphs" fill="#000" stroke="#000">29 Dec 2016</text>
<text x="452.437" y="713" textLength="49.612" lengthAdjust="spacingAndGlyphs" fill="#000" stroke="#000">11 Jan 2017</text>
<text x="516.350" y="713" textLength="49.454" lengthAdjust="spacingAndGlyphs" fill="#000" stroke="#000">23 Jan 2017</text>
<text x="580.350" y="713" textLength="46.994" lengthAdjust="spacingAndGlyphs" fill="#000" stroke="#000">2 Feb 2017</text>
<text x="644.433" y="713" textLength="51.491" lengthAdjust="spacingAndGlyphs" fill="#000" stroke="#000">14 Feb 2017</text>
<text x="708.350" y="713" textLength="51.576" lengthAdjust="spacingAndGlyphs" fill="#000" stroke="#000">24 Feb 2017</text>
<text x="772.350" y="713" textLength="48.012" lengthAdjust="spacingAndGlyphs" fill="#000" stroke="#000">8 Mar 2017</text>
<text x="836.350" y="713" textLength="51.562" lengthAdjust="spacingAndGlyphs" fill="#000" stroke="#000">20 Mar 2017</text>
<text x="899.415" y="713" textLength="52.516" lengthAdjust="spacingAndGlyphs" fill="#000" stroke="#000">30 Mar 2017</text>
<text x="964.399" y="713" textLength="50.595" lengthAdjust="spacingAndGlyphs" fill="#000" stroke="#000">11 Apr 2017</text>
<path d="M8 8 L15 8 L11.5 12 Z" fill="#000"/>
<text x="19.360" y="13" textLength="50.603" lengthAdjust="spacingAndGlyphs" fill="#000" stroke="#000">USOil,Daily</text>
<text x="75.404" y="13" textLength="28.955" lengthAdjust="spacingAndGlyphs" fill="#000" stroke="#000">52.815</text>
<text x="106.404" y="13" textLength="28.955" lengthAdjust="spacingAndGlyphs" fill="#000" stroke="#000">53.360</text>
<text x="137.404" y="13" textLength="28.955" lengthAdjust="spacingAndGlyphs" fill="#000" stroke="#000">52.815</text>
<text x="168.404" y="13" textLength="28.955" lengthAdjust="spacingAndGlyphs" fill="#000" stroke="#000">52.870</text>
</svg></body></html>
